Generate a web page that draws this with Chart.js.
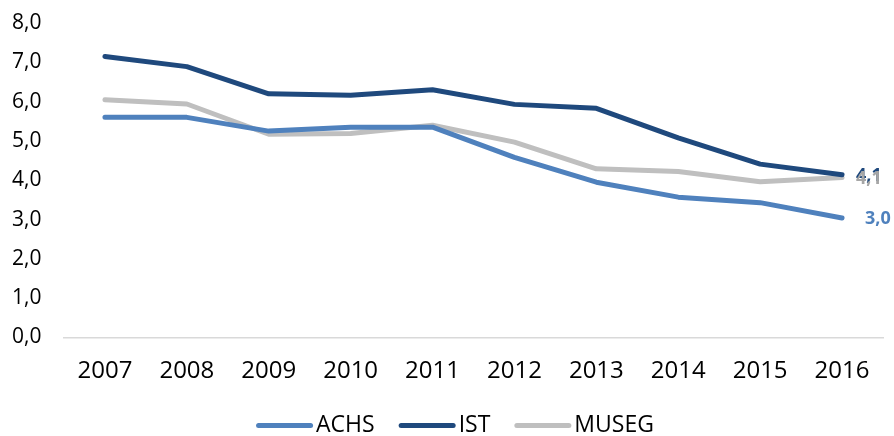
<!DOCTYPE html>
<html>
<head>
<meta charset="utf-8">
<script src="https://cdn.jsdelivr.net/npm/chart.js@4"></script>
<style>
  html, body { margin: 0; padding: 0; background: #ffffff; }
  #wrap { width: 894px; height: 436px; position: relative; }
</style>
</head>
<body>
<div id="wrap"><canvas id="c" width="894" height="436"></canvas></div>
<script>
const years = ["2007","2008","2009","2010","2011","2012","2013","2014","2015","2016"];
const achs  = [5.60, 5.60, 5.25, 5.35, 5.35, 4.58, 3.95, 3.57, 3.43, 3.04];
const ist   = [7.15, 6.89, 6.20, 6.16, 6.30, 5.93, 5.83, 5.08, 4.41, 4.14];
const museg = [6.05, 5.94, 5.17, 5.19, 5.40, 4.97, 4.29, 4.22, 3.96, 4.07];
const yTicks = [0, 1, 2, 3, 4, 5, 6, 7, 8];

const seriesNames  = ["ACHS", "IST", "MUSEG"];
const seriesColors = ["#4F81BD", "#1F497D", "#BFBFBF"];
const labelColors  = ["#4F81BD", "#1F497D", "#A6A6A6"];

const fmt = v => v.toFixed(1).replace('.', ',');

const endLabels = {
  id: 'endLabels',
  afterDatasetsDraw(chart) {
    const ctx = chart.ctx;
    ctx.save();
    ctx.font = 'bold 18px "Open Sans"';
    ctx.textBaseline = 'middle';
    ctx.textAlign = 'left';
    const order = [1, 2, 0];
    order.forEach(i => {
      const meta = chart.getDatasetMeta(i);
      const pts = meta.data;
      const last = pts[pts.length - 1];
      const val = chart.data.datasets[i].data[pts.length - 1];
      const dx = (i === 0) ? 23 : 14;
      ctx.fillStyle = labelColors[i];
      ctx.fillText(fmt(val), last.x + dx, last.y + 1);
    });
    ctx.restore();
  }
};

const LEGEND_LINE = 57;
const legendTweak = {
  id: 'legendTweak',
  beforeLayout(chart) {
    const lg = chart.legend;
    if (lg && !lg._fitPatched) {
      const orig = lg.fit.bind(lg);
      lg.fit = function () { orig(); this.height = 46; };
      lg._fitPatched = true;
    }
  },
  afterLayout(chart) {
    const lg = chart.legend;
    if (lg) { lg.left += 7.5; lg.right += 7.5; }
  },
  afterDraw(chart) {
    const lg = chart.legend;
    if (!lg || !lg.legendHitBoxes) return;
    const ctx = chart.ctx;
    ctx.save();
    ctx.lineWidth = 5;
    ctx.lineCap = 'round';
    lg.legendHitBoxes.forEach((hb, i) => {
      const y = hb.top + hb.height / 2;
      ctx.strokeStyle = seriesColors[i];
      ctx.beginPath();
      ctx.moveTo(hb.left + 2.5, y);
      ctx.lineTo(hb.left + LEGEND_LINE - 2.5, y);
      ctx.stroke();
    });
    ctx.restore();
  }
};

const datasets = [achs, ist, museg].map((d, i) => ({
  label: seriesNames[i],
  data: d,
  borderColor: seriesColors[i],
  backgroundColor: seriesColors[i],
  borderWidth: 5,
  borderCapStyle: 'round',
  borderJoinStyle: 'round',
  pointRadius: 0,
  pointHoverRadius: 0,
  tension: 0,
  fill: false
}));

new Chart(document.getElementById('c'), {
  type: 'line',
  data: { labels: years, datasets },
  plugins: [legendTweak, endLabels],
  options: {
    responsive: false,
    animation: false,
    devicePixelRatio: 1,
    layout: { autoPadding: false, padding: { top: 23, right: 11, left: 12, bottom: 0 } },
    scales: {
      x: {
        offset: true,
        afterFit(scale) { scale.height = 52.5; },
        grid: { display: false, drawTicks: false, offset: true },
        border: { display: true, color: '#D9D9D9', width: 1.5 },
        ticks: {
          color: '#000000',
          font: { family: '"Open Sans"', size: 24 },
          padding: 19,
          maxRotation: 0
        }
      },
      y: {
        min: 0, max: 8,
        afterFit(scale) { scale.width = 52; },
        afterBuildTicks(scale) { scale.ticks = yTicks.map(v => ({ value: v })); },
        grid: { display: false, drawTicks: false },
        border: { display: false },
        ticks: {
          color: '#000000',
          font: { family: '"Open Sans"', size: 21 },
          padding: 0,
          crossAlign: 'far',
          callback: v => fmt(v)
        }
      }
    },
    plugins: {
      tooltip: { enabled: false },
      legend: {
        position: 'bottom',
        labels: {
          color: '#000000',
          font: { family: '"Open Sans"', size: 23 },
          boxWidth: 48.5,
          boxHeight: 5,
          padding: 24,
          generateLabels(chart) {
            return chart.data.datasets.map((ds, i) => ({
              text: ds.label,
              fillStyle: 'rgba(0,0,0,0)',
              strokeStyle: 'rgba(0,0,0,0)',
              lineWidth: 0,
              fontColor: '#000000',
              hidden: false,
              datasetIndex: i
            }));
          }
        }
      }
    }
  }
});
</script>
</body>
</html>
